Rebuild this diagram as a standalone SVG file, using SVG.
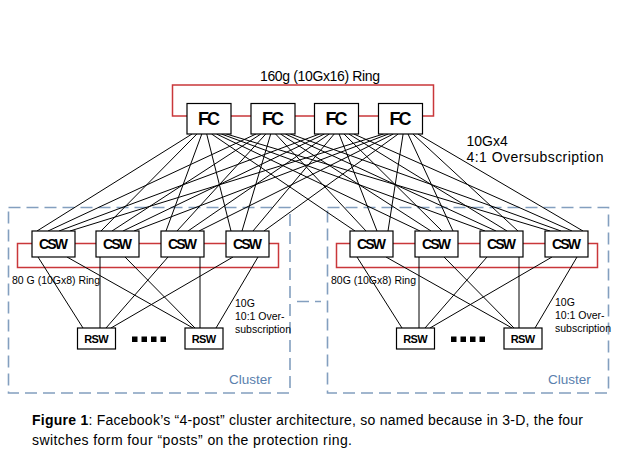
<svg xmlns="http://www.w3.org/2000/svg" width="620" height="465" viewBox="0 0 620 465">
<style>
.box{fill:#fff;stroke:#000;stroke-width:1.2}
.ring{fill:none;stroke:#c9373a;stroke-width:1.5}
.link{fill:none;stroke:#000;stroke-width:1}
.cl{fill:none;stroke:#839fbf;stroke-width:1.6;stroke-dasharray:12 6}
text{font-family:"Liberation Sans",Arial,sans-serif;fill:#000}
.nb{font-weight:bold;text-anchor:middle}
.fc{font-size:18px}
.csw{font-size:14px}
.rsw{font-size:11px}
.sm{font-size:10.5px}
.md{font-size:14px}
.clt{font-size:13.5px;fill:#5a80ad}
</style>
<rect width="620" height="465" fill="#fff"/>
<g id="clusters">
<rect class="cl" x="8.5" y="207.5" width="281.5" height="185.5"/>
<rect class="cl" x="327.5" y="207.5" width="281" height="185.5"/>
<line class="cl" x1="297" y1="301.5" x2="321" y2="301.5" stroke-dasharray="10 4"/>
<text class="clt" x="229" y="384">Cluster</text>
<text class="clt" x="548" y="384">Cluster</text>
</g>
<g id="rings">
<rect class="ring" x="172.5" y="85" width="261" height="31"/>
<rect class="ring" x="17.5" y="243.5" width="261" height="24"/>
<rect class="ring" x="336.5" y="243.5" width="261" height="24"/>
</g>
<g id="connectors" class="link">
<path d="M192,134L37,231M196.9,134L101,231M201.8,134L166,231M206.7,134L231,231M211.6,134L355,231M216.5,134L420,231M221.4,134L485,231M226.3,134L550,231"/>
<path d="M256,134L48,231M260.9,134L112,231M265.8,134L177,231M270.7,134L242,231M275.6,134L366,231M280.5,134L431,231M285.4,134L496,231M290.3,134L561,231"/>
<path d="M319.5,134L59,231M324.4,134L123,231M329.3,134L188,231M334.2,134L253,231M339.1,134L377,231M344,134L442,231M348.9,134L507,231M353.8,134L572,231"/>
<path d="M383.5,134L70,231M388.4,134L134,231M393.3,134L199,231M398.2,134L264,231M403.1,134L388,231M408,134L453,231M412.9,134L518,231M417.8,134L583,231"/>
<path d="M38,257L83,328M67,257L193,328M100,257L100,328M125,257L195,328M168,257L106,328M200,257L200,328M233,257L111,328M258,257L216,328"/>
<path d="M357,257L402,328M386,257L512,328M419,257L419,328M444,257L514,328M487,257L425,328M519,257L519,328M552,257L430,328M577,257L535,328"/>
</g>
<g id="fc1"><rect class="box" x="187" y="103.5" width="44" height="30.5"/><text class="nb fc" x="209" y="125" textLength="22">FC</text></g>
<g id="fc2"><rect class="box" x="251" y="103.5" width="44" height="30.5"/><text class="nb fc" x="273" y="125" textLength="22">FC</text></g>
<g id="fc3"><rect class="box" x="314.5" y="103.5" width="44" height="30.5"/><text class="nb fc" x="336.5" y="125" textLength="22">FC</text></g>
<g id="fc4"><rect class="box" x="378.5" y="103.5" width="44" height="30.5"/><text class="nb fc" x="400.5" y="125" textLength="22">FC</text></g>
<g id="csw-l1"><rect class="box" x="32" y="231" width="43" height="26"/><text class="nb csw" x="53.5" y="249" textLength="29">CSW</text></g>
<g id="csw-l2"><rect class="box" x="96" y="231" width="43" height="26"/><text class="nb csw" x="117.5" y="249" textLength="29">CSW</text></g>
<g id="csw-l3"><rect class="box" x="161" y="231" width="43" height="26"/><text class="nb csw" x="182.5" y="249" textLength="29">CSW</text></g>
<g id="csw-l4"><rect class="box" x="226" y="231" width="43" height="26"/><text class="nb csw" x="247.5" y="249" textLength="29">CSW</text></g>
<g id="csw-r1"><rect class="box" x="350" y="231" width="43" height="26"/><text class="nb csw" x="371.5" y="249" textLength="29">CSW</text></g>
<g id="csw-r2"><rect class="box" x="415" y="231" width="43" height="26"/><text class="nb csw" x="436.5" y="249" textLength="29">CSW</text></g>
<g id="csw-r3"><rect class="box" x="480" y="231" width="43" height="26"/><text class="nb csw" x="501.5" y="249" textLength="29">CSW</text></g>
<g id="csw-r4"><rect class="box" x="545" y="231" width="43" height="26"/><text class="nb csw" x="566.5" y="249" textLength="29">CSW</text></g>
<g id="rsw-l1"><rect class="box" x="77.5" y="328" width="38" height="21"/><text class="nb rsw" x="96.5" y="342.5" textLength="24.5">RSW</text></g>
<g id="rsw-l2"><rect class="box" x="185" y="328" width="38" height="21"/><text class="nb rsw" x="204" y="342.5" textLength="24.5">RSW</text></g>
<g id="rsw-r1"><rect class="box" x="396.5" y="328" width="38" height="21"/><text class="nb rsw" x="415.5" y="342.5" textLength="24.5">RSW</text></g>
<g id="rsw-r2"><rect class="box" x="504" y="328" width="38" height="21"/><text class="nb rsw" x="523" y="342.5" textLength="24.5">RSW</text></g>
<g id="dots" fill="#000">
<rect x="132" y="336.5" width="5.5" height="5.5"/><rect x="141.5" y="336.5" width="5.5" height="5.5"/><rect x="151" y="336.5" width="5.5" height="5.5"/><rect x="160.5" y="336.5" width="5.5" height="5.5"/>
<rect x="451" y="336.5" width="5.5" height="5.5"/><rect x="460.5" y="336.5" width="5.5" height="5.5"/><rect x="470" y="336.5" width="5.5" height="5.5"/><rect x="479.5" y="336.5" width="5.5" height="5.5"/>
</g>
<g id="labels">
<text class="md" x="260" y="80.5" textLength="120">160g (10Gx16) Ring</text>
<text class="md" x="466.5" y="145.5">10Gx4</text>
<text class="md" x="466.5" y="161.5" textLength="137">4:1 Oversubscription</text>
<text class="sm" x="12" y="283.5" textLength="88">80 G (10Gx8) Ring</text>
<text class="sm" x="331" y="284" textLength="85">80G (10Gx8) Ring</text>
<text class="sm" x="235" y="307">10G</text>
<text class="sm" x="235" y="320">10:1 Over-</text>
<text class="sm" x="235" y="333">subscription</text>
<text class="sm" x="555" y="306">10G</text>
<text class="sm" x="555" y="319">10:1 Over-</text>
<text class="sm" x="555" y="332">subscription</text>
</g>
<g id="caption">
<text class="md" x="32" y="425" textLength="551"><tspan font-weight="bold">Figure 1</tspan>: Facebook’s “4-post” cluster architecture, so named because in 3-D, the four</text>
<text class="md" x="32" y="445" textLength="320">switches form four “posts” on the protection ring.</text>
</g>
</svg>
